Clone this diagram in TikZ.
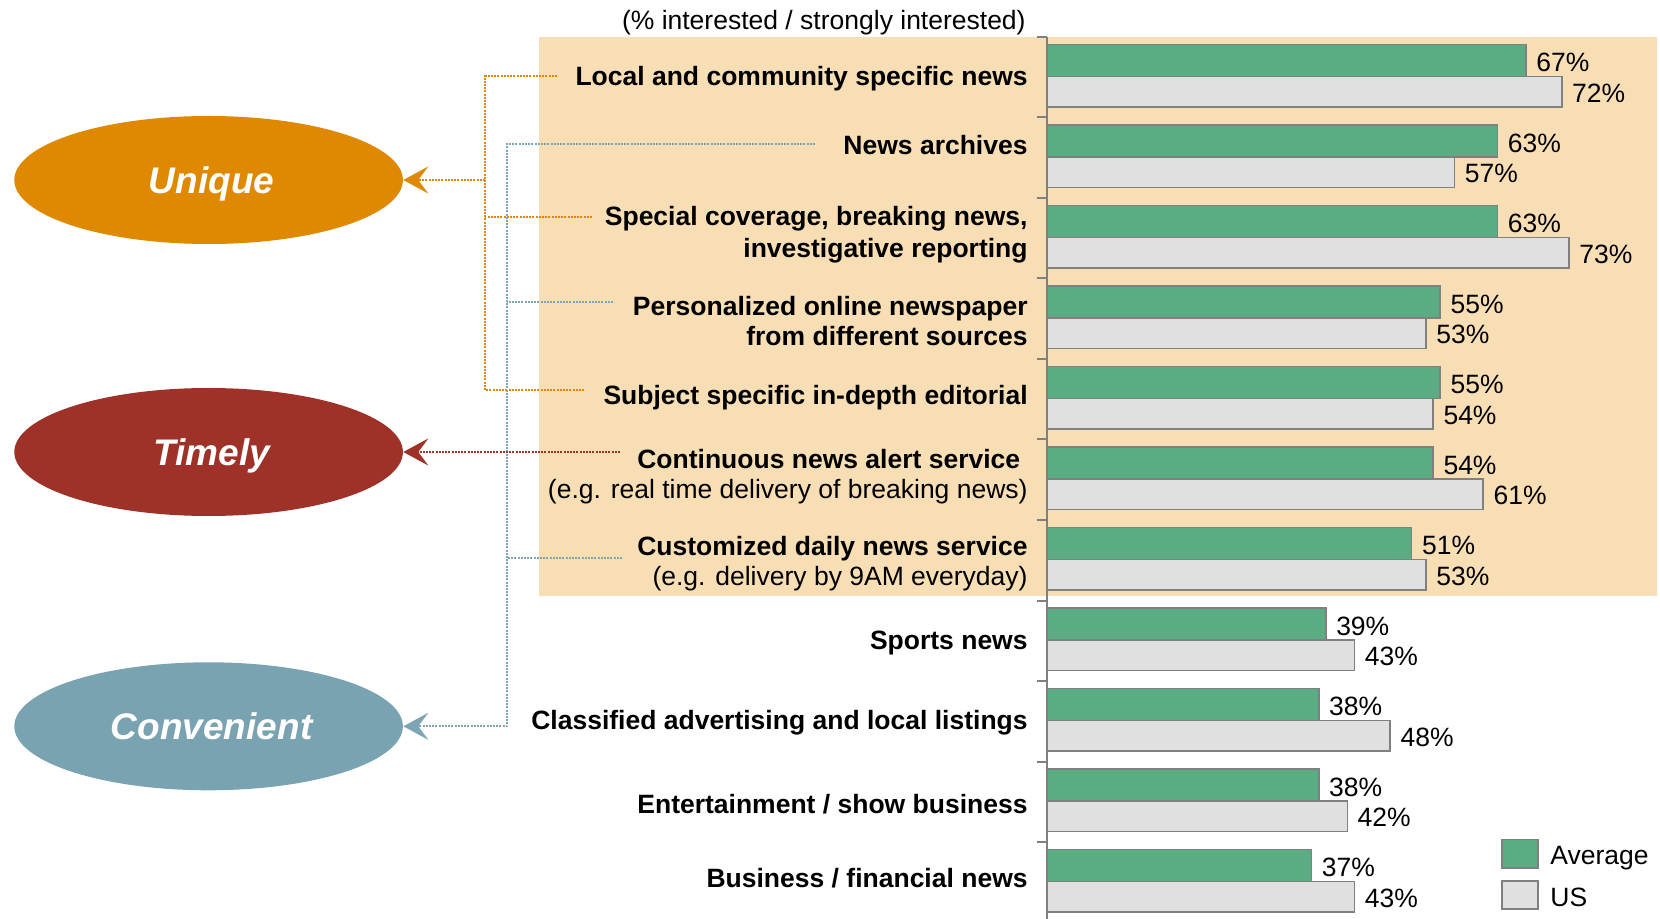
\documentclass[tikz,border=0pt]{standalone}
\usepackage{fontspec}
\setmainfont{Liberation Sans}
\usetikzlibrary{arrows.meta,shapes.geometric}
\definecolor{cUnique}{RGB}{222,137,0}
\definecolor{cTimely}{RGB}{158,50,40}
\definecolor{cConv}{RGB}{122,163,178}
\definecolor{cBlueDot}{RGB}{125,165,182}
\definecolor{cBg}{RGB}{248,222,180}
\definecolor{cGreen}{RGB}{90,172,131}
\definecolor{cGray}{RGB}{224,224,224}
\definecolor{cEdge}{RGB}{128,128,128}
\begin{document}
\begin{tikzpicture}[x=0.5pt,y=-0.5pt,
  txt/.style={font=\fontsize{13.25}{15}\selectfont, inner sep=0pt},
  catlab/.style={txt, anchor=east, align=right},
  boldlab/.style={catlab, font=\fontsize{13.25}{15}\selectfont\bfseries},
  pct/.style={txt, anchor=west},
  theme/.style={ellipse, minimum width=194.3pt, minimum height=64pt, inner sep=0pt, text depth=0pt, text=white, font=\fontsize{18.5}{22}\selectfont\bfseries\itshape},
  avgbar/.style={fill=cGreen, draw=cEdge, line width=0.8pt},
  usbar/.style={fill=cGray, draw=cEdge, line width=0.8pt},
  axisline/.style={draw=cEdge, line width=1pt},
  dots/.style={line width=0.9pt, dash pattern=on 1pt off 0.6pt},
  tip/.style={-{Stealth[length=12.5pt,width=13.5pt,inset=5pt]}}
]
\useasboundingbox (0,0) rectangle (1660,919);
% background highlight
\fill[cBg] (539,37) rectangle (1657,596);

% title
\node[txt, anchor=east] (title) at (1026,23) {(\% interested / strongly interested)};

% bars
\foreach \a/\u [count=\i from 0] in {67/72,63/57,63/73,55/53,55/54,54/61,51/53,39/43,38/48,38/42,37/43} {
  \pgfmathsetmacro{\yy}{37+80.5*\i}
  \draw[avgbar] (1047,{\yy+7.5}) rectangle ({1047+7.15*\a},{\yy+39.5});
  \draw[usbar] (1047,{\yy+39.5}) rectangle ({1047+7.15*\u},{\yy+70});
  \node[pct] (pa\i) at ({1047+7.15*\a+10},{\yy+25.5}) {\a\%};
  \node[pct] (pu\i) at ({1047+7.15*\u+10},{\yy+56}) {\u\%};
}

% axis
\draw[axisline] (1047,37) -- (1047,919);
\foreach \i in {0,...,10} {
  \draw[axisline] (1037,{37+80.5*\i}) -- (1047,{37+80.5*\i});
}

% category labels
\node[boldlab] (lab1) at (1028,79) {Local and community specific news};
\node[boldlab] (lab2) at (1028,145) {News archives};
\node[boldlab, font=\fontsize{13.25}{16}\selectfont\bfseries] (lab3) at (1028,235) {Special coverage, breaking news,\\investigative reporting};
\node[boldlab] (lab4) at (1028,321) {Personalized online newspaper\\from different sources};
\node[boldlab] (lab5) at (1028,398) {Subject specific in-depth editorial};
\node[catlab] (lab6) at (1028,477) {{\bfseries Continuous news alert service}\kern0.28em\\(e.g. real time delivery of breaking news)};
\node[catlab] (lab7) at (1028,564) {{\bfseries Customized daily news service}\\(e.g. delivery by 9AM everyday)};
\node[boldlab] (lab8) at (1028,642.6) {Sports news};
\node[boldlab] (lab9) at (1028,723) {Classified advertising and local listings};
\node[boldlab] (lab10) at (1028,804.5) {Entertainment / show business};
\node[boldlab] (lab11) at (1028,877.7) {Business / financial news};

% theme ellipses
\node[theme, fill=cUnique] (unique) at (208.6,180) {\hspace*{3pt}Unique};
\node[theme, fill=cTimely] (timely) at (208.6,452) {\hspace*{3pt}Timely};
\node[theme, fill=cConv] (convenient) at (208.6,726.3) {\hspace*{3pt}Convenient};

% orange connectors (Unique)
\coordinate (oLocal) at (557,76);
\coordinate (oTop) at (485,76);
\coordinate (oBot) at (485,390);
\coordinate (oSubj) at (584,390);
\coordinate (oSpec) at (592,217);
\coordinate (oJ) at (485,180);
\draw[dots, cUnique] (oLocal) -- (oTop) -- (oBot) -- (oSubj);
\draw[dots, cUnique] (oSpec) -- (oSpec -| oTop);
\draw[dots, cUnique, tip] (oJ) -- (unique.east);

% blue connectors (Convenient)
\coordinate (bNews) at (815,144);
\coordinate (bTop) at (507,144);
\coordinate (bBot) at (507,726.3);
\coordinate (bPers) at (613,302);
\coordinate (bCust) at (622,558);
\draw[dots, cBlueDot, tip] (bNews) -- (bTop) -- (bBot) -- (convenient.east);
\draw[dots, cBlueDot] (bPers) -- (bPers -| bTop);
\draw[dots, cBlueDot] (bCust) -- (bCust -| bTop);

% red connector (Timely)
\coordinate (rCont) at (620,452);
\draw[dots, cTimely, tip] (rCont) -- (timely.east);

% legend
\draw[avgbar] (1502,839.5) rectangle (1538,868);
\node[pct] (legavg) at (1550,858.5) {Average};
\draw[usbar] (1502,881) rectangle (1538,909);
\node[pct] (legus) at (1550,897.7) {US};
\end{tikzpicture}
\end{document}
